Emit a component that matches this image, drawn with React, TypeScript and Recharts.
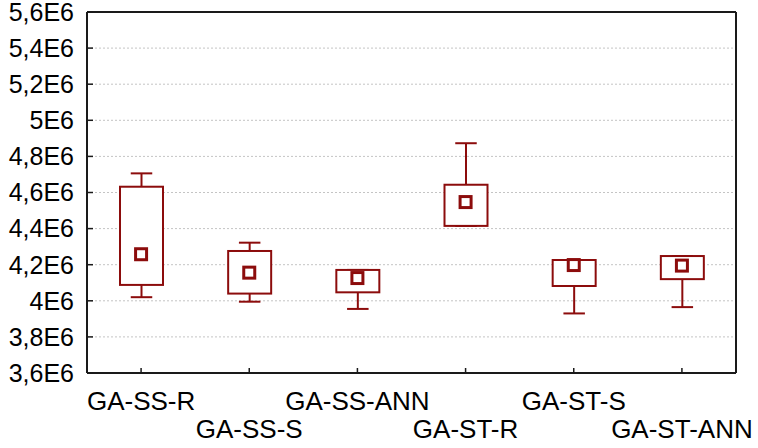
import React from 'react';
import { ComposedChart, Bar, Scatter, XAxis, YAxis, CartesianGrid } from 'recharts';

// box plot values
const categories = ['GA-SS-R', 'GA-SS-S', 'GA-SS-ANN', 'GA-ST-R', 'GA-ST-S', 'GA-ST-ANN'];
const minValues = [4.02e6, 3.995e6, 3.955e6, 4.415e6, 3.93e6, 3.965e6];
const q1Values = [4.088e6, 4.04e6, 4.047e6, 4.415e6, 4.082e6, 4.12e6];
const meanValues = [4.258e6, 4.156e6, 4.126e6, 4.547e6, 4.198e6, 4.195e6];
const q3Values = [4.632e6, 4.276e6, 4.171e6, 4.643e6, 4.226e6, 4.248e6];
const maxValues = [4.706e6, 4.322e6, 4.171e6, 4.873e6, 4.226e6, 4.248e6];
const yTicks = [3.6e6, 3.8e6, 4e6, 4.2e6, 4.4e6, 4.6e6, 4.8e6, 5e6, 5.2e6, 5.4e6, 5.6e6];

const data = categories.map((name, i) => ({
    name,
    min: minValues[i],
    q1: q1Values[i],
    mean: meanValues[i],
    q3: q3Values[i],
    max: maxValues[i],
}));

const RED = '#8c0c0c';
const FRAME = '#1a1a1a';
const FONT = '"Liberation Sans", Arial, sans-serif';

const fmtY = (v: number) => {
    const s = (v / 1e6).toFixed(1).replace(/\.0$/, '').replace('.', ',');
    return `${s}E6`;
};

// whiskers + box, positioned inside the [min, max] bar rect the library gives us
const BoxShape = (props: any) => {
    const { x, y, width, height, payload } = props;
    const { min, q1, q3, max } = payload;
    const toPx = (v: number) => y + ((max - v) / (max - min)) * height;
    const cx = x + width / 2;
    const cap = width / 4;
    const top = toPx(q3);
    const bottom = toPx(q1);
    return (
        <g>
            <line x1={cx} x2={cx} y1={y} y2={y + height} stroke={RED} strokeWidth={2} />
            <line x1={cx - cap} x2={cx + cap} y1={y} y2={y} stroke={RED} strokeWidth={2} />
            <line x1={cx - cap} x2={cx + cap} y1={y + height} y2={y + height} stroke={RED} strokeWidth={2} />
            <rect x={x} y={top} width={width} height={bottom - top} fill="#fff" stroke={RED} strokeWidth={2} />
        </g>
    );
};

const MeanShape = (props: any) => {
    const { cx, cy } = props;
    return <rect x={cx - 5.5} y={cy - 5.5} width={11} height={11} fill="none" stroke={RED} strokeWidth={3} />;
};

const XTick = (props: any) => {
    const { x, y, payload, index } = props;
    const dy = index % 2 === 0 ? 37 : 65;
    return (
        <text x={x} y={y + dy} textAnchor="middle" fontSize={26} fontFamily={FONT} fill="#000">
            {payload.value}
        </text>
    );
};

export default function App() {
    return (
        <div style={{ position: 'fixed', left: 0, top: 0, background: '#fff' }}>
            <ComposedChart width={758} height={448} data={data} margin={{ top: 10, right: 20, bottom: 0, left: 0 }}>
                <CartesianGrid
                    xAxisId="bottom"
                    yAxisId="left"
                    vertical={false}
                    stroke="#c4c4c4"
                    strokeDasharray="2 2"
                />
                <XAxis
                    xAxisId="bottom"
                    dataKey="name"
                    height={75}
                    interval={0}
                    tickSize={-5}
                    tickMargin={5}
                    tick={<XTick />}
                    axisLine={{ stroke: FRAME, strokeWidth: 2 }}
                    tickLine={{ stroke: FRAME, strokeWidth: 1.5 }}
                />
                <XAxis
                    xAxisId="top"
                    orientation="top"
                    dataKey="name"
                    height={2}
                    interval={0}
                    tick={false}
                    tickSize={-5}
                    axisLine={{ stroke: FRAME, strokeWidth: 2 }}
                    tickLine={{ stroke: FRAME, strokeWidth: 1.5 }}
                />
                <YAxis
                    yAxisId="left"
                    width={87}
                    domain={[3.6e6, 5.6e6]}
                    ticks={yTicks}
                    interval={0}
                    tickFormatter={fmtY}
                    tickSize={-6}
                    tickMargin={19}
                    tick={{ fill: '#000', fontSize: 25, fontFamily: FONT }}
                    axisLine={{ stroke: FRAME, strokeWidth: 2 }}
                    tickLine={{ stroke: FRAME, strokeWidth: 1.5 }}
                />
                <YAxis
                    yAxisId="right"
                    orientation="right"
                    width={2}
                    domain={[3.6e6, 5.6e6]}
                    ticks={yTicks}
                    interval={0}
                    tick={false}
                    tickSize={-6}
                    axisLine={{ stroke: FRAME, strokeWidth: 2 }}
                    tickLine={{ stroke: FRAME, strokeWidth: 1.5 }}
                />
                <Bar
                    xAxisId="bottom"
                    yAxisId="left"
                    dataKey={(d: any) => [d.min, d.max]}
                    barSize={43}
                    shape={<BoxShape />}
                    isAnimationActive={false}
                />
                <Scatter
                    xAxisId="bottom"
                    yAxisId="left"
                    dataKey="mean"
                    shape={<MeanShape />}
                    isAnimationActive={false}
                />
            </ComposedChart>
        </div>
    );
}
